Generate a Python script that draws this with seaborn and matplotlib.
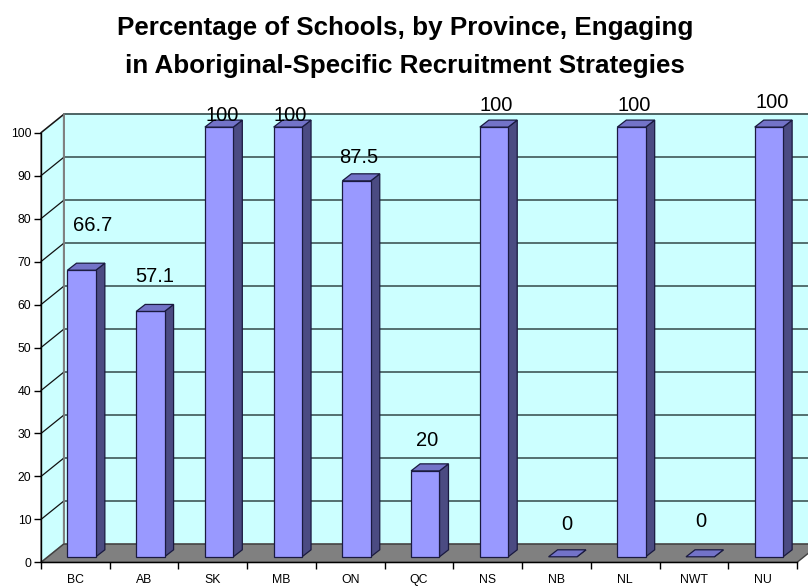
import numpy as np
import pandas as pd
import matplotlib
matplotlib.use("Agg")
import matplotlib.pyplot as plt
from matplotlib.patches import Polygon
import seaborn as sns

# Share of schools using Aboriginal-specific recruitment strategies
provinces = ["BC", "AB", "SK", "MB", "ON", "QC", "NS", "NB", "NL", "NWT", "NU"]
percent = [66.7, 57.1, 100, 100, 87.5, 20, 100, 0, 100, 0, 100]
y_ticks = list(range(0, 101, 10))
title_lines = ["Percentage of Schools, by Province, Engaging",
               "in Aboriginal-Specific Recruitment Strategies"]

# value-label nudges (pixels right / up from each bar's top front edge)
label_dx = [11, 4, 3, 2, 2, 2, 2, 4, 3, 1, 3]
label_dy = [45, 35, 12, 12, 23, 30, 22, 32, 22, 35, 25]

sns.set_theme(style="white")
plt.rcParams["font.family"] = ["Liberation Sans", "DejaVu Sans"]
plt.rcParams.update({"text.color": "black", "axes.labelcolor": "black",
                     "xtick.color": "black", "ytick.color": "black"})

W, H, DPI = 808, 586, 100
fig = plt.figure(figsize=(W / DPI, H / DPI), dpi=DPI)
fig.patch.set_facecolor("white")

# front plane of the 3-D box, in figure pixels
left_px, right_px, bottom_px, top_px = 41, 797, 562.4, 132.7
ax = fig.add_axes([left_px / W, 1 - bottom_px / H,
                   (right_px - left_px) / W, (bottom_px - top_px) / H])
ax.set_facecolor("none")

n = len(provinces)
px_x = (right_px - left_px) / n      # pixels per category
px_y = (bottom_px - top_px) / 100.0  # pixels per percent


def to_data(dx_px, dy_px):
    return dx_px / px_x, dy_px / px_y


wall_c = "#CCFFFF"
floor_c = "#808080"
face_c = "#9999FF"
side_c = "#4B4B82"
top_c = "#7373C8"

dX, dY = to_data(22.7, 18.3)     # depth of the box
x0w, x1w = -0.5, n - 0.5

# back wall, side wall, floor
back = Polygon([(x0w + dX, dY), (x1w + dX + 1, dY), (x1w + dX + 1, 100 + dY),
                (x0w + dX, 100 + dY)], closed=True, facecolor=wall_c,
               edgecolor="#808080", lw=1.2, zorder=0, clip_on=False)
side = Polygon([(x0w, 0), (x0w + dX, dY), (x0w + dX, 100 + dY), (x0w, 100)],
               closed=True, facecolor=wall_c, edgecolor="#808080", lw=1.2,
               zorder=0, clip_on=False)
floor = Polygon([(x0w, 0), (x1w, 0), (x1w + dX, dY), (x0w + dX, dY)],
                closed=True, facecolor=floor_c, edgecolor="#404040", lw=1.0,
                zorder=0.5, clip_on=False)

# bars from the data
df = pd.DataFrame({"Province": provinces, "Percent": percent})
sns.barplot(data=df, x="Province", y="Percent", color=face_c, saturation=1,
            width=0.413, edgecolor="#1a1a40", linewidth=0.9, ax=ax, zorder=3)
bars = list(ax.patches)

for p in (back, side, floor):
    ax.add_patch(p)

# gridlines on the back and side walls
for t in y_ticks[1:]:
    ax.plot([x0w + dX, x1w + dX + 1], [t + dY, t + dY], color="#4A6464",
            lw=1.3, zorder=0.2, clip_on=False)
    ax.plot([x0w, x0w + dX], [t, t + dY], color="#111111", lw=0.9,
            zorder=0.2, clip_on=False)
ax.plot([x0w + dX, x0w + dX], [dY, 100 + dY], color="#808080", lw=1.2,
        zorder=0.3, clip_on=False)

fX, fY = to_data(6.3, 5.6)   # bar front face set back into the box
bX, bY = to_data(9.0, 7.0)   # bar thickness

for i, p in enumerate(bars):
    x0 = p.get_x() + fX
    w = p.get_width()
    h = p.get_height()
    x1 = x0 + w
    p.set_xy((x0, fY))
    p.set_clip_on(False)
    sidef = Polygon([(x1, fY), (x1 + bX, fY + bY), (x1 + bX, fY + bY + h),
                     (x1, fY + h)], closed=True, facecolor=side_c,
                    edgecolor="#1a1a40", lw=0.9, zorder=2.9, clip_on=False)
    topf = Polygon([(x0, fY + h), (x1, fY + h), (x1 + bX, fY + h + bY),
                    (x0 + bX, fY + h + bY)], closed=True, facecolor=top_c,
                   edgecolor="#1a1a40", lw=0.9, zorder=3.1, clip_on=False)
    ax.add_patch(sidef)
    ax.add_patch(topf)
    if h == 0:
        p.set_visible(False)
    ax.annotate(f"{percent[i]:g}", xy=(x0 + w / 2, fY + h),
                xytext=(label_dx[i], label_dy[i]), textcoords="offset pixels",
                ha="center", va="center", fontsize=14.5, color="black",
                annotation_clip=False, zorder=5)

ax.set_xlim(x0w, x1w)
ax.set_ylim(0, 100)

# axes: black front spines, ticks at category boundaries
for s in ("top", "right"):
    ax.spines[s].set_visible(False)
for s in ("left", "bottom"):
    ax.spines[s].set_visible(True)
    ax.spines[s].set_color("black")
    ax.spines[s].set_linewidth(1.0)
    ax.spines[s].set_zorder(4)

ax.set_yticks(y_ticks)
ax.set_yticklabels([str(t) for t in y_ticks], fontsize=8.8, color="black")
ax.tick_params(axis="y", direction="out", length=5, width=1, color="black",
               pad=2, left=True)
ax.set_xticks(range(n))
ax.set_xticklabels(provinces, fontsize=8.8, color="black")
ax.set_xticks(np.arange(-0.5, n, 1), minor=True)
ax.tick_params(axis="x", which="major", length=0, pad=8.3)
ax.tick_params(axis="x", which="minor", direction="out", length=5, width=1,
               color="black", bottom=True)
ax.set_xlabel("")
ax.set_ylabel("")
ax.grid(False)

fig.text(405 / W, 1 - 35 / H, title_lines[0], ha="center", va="baseline",
         fontsize=18.7, fontweight="bold", color="black")
fig.text(405 / W, 1 - 73 / H, title_lines[1], ha="center", va="baseline",
         fontsize=18.7, fontweight="bold", color="black")

fig.savefig("out.png", dpi=DPI)
